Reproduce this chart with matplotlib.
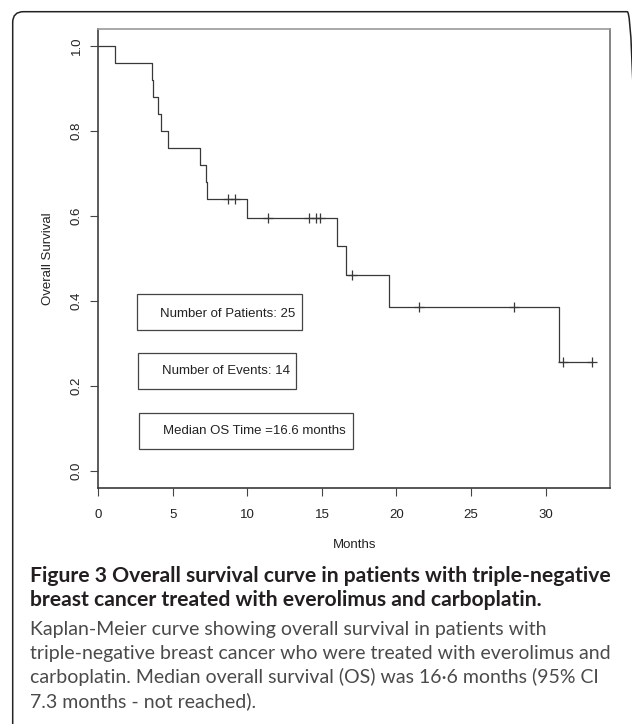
import numpy as np
import matplotlib
matplotlib.use("Agg")
import matplotlib.pyplot as plt
from matplotlib.patches import Rectangle, FancyBboxPatch

# survival data (months)
event_times = [1.1, 3.6, 3.7, 4.0, 4.2, 4.7, 6.8, 7.2, 7.3, 9.95, 16.0, 16.6, 19.5, 30.9]
censor_times = [8.7, 9.2, 11.4, 14.1, 14.6, 14.9, 17.0, 21.5, 27.9, 31.2, 33.1]

x_ticks = [0, 5, 10, 15, 20, 25, 30]
y_ticks = [0.0, 0.2, 0.4, 0.6, 0.8, 1.0]
y_ticklabels = ["0.0", "0.2", "0.4", "0.6", "0.8", "1.0"]

legend_texts = ["Number of Patients: 25", "Number of Events: 14", "Median OS Time =16.6 months"]

caption_bold = ["Figure 3 Overall survival curve in patients with triple-negative",
                "breast cancer treated with everolimus and carboplatin."]
caption_body = ["Kaplan-Meier curve showing overall survival in patients with",
                "triple-negative breast cancer who were treated with everolimus and",
                "carboplatin. Median overall survival (OS) was 16\u00b76 months (95% CI",
                "7.3 months - not reached)."]

W, H = 632, 724


def kaplan_meier(events, censored):
    allt = sorted([(t, 1) for t in events] + [(t, 0) for t in censored])
    n = len(allt)
    s = 1.0
    xs, ys = [0.0], [1.0]
    cx, cy = [], []
    for t, d in allt:
        if d == 1:
            s = s * (n - 1) / n
            xs.append(t)
            ys.append(s)
        else:
            cx.append(t)
            cy.append(s)
        n -= 1
    xs.append(allt[-1][0])
    ys.append(s)
    return xs, ys, cx, cy


xs, ys, cx, cy = kaplan_meier(event_times, censor_times)

plt.rcParams['font.family'] = ['Liberation Sans', 'DejaVu Sans']

fig = plt.figure(figsize=(W / 100, H / 100), dpi=100)
ax = fig.add_axes([98.3 / W, 1 - 488 / H, (610 - 98.3) / W, (488 - 29) / H])

ax.step(xs, ys, where='post', color='#383838', lw=0.9)
ax.plot(cx, cy, ls='none', marker='+', ms=7, mew=0.9, color='#383838')

ax.set_xlim(0, 34.32)
ax.set_ylim(-0.04, 1.04)
ax.set_xticks(x_ticks)
ax.set_yticks(y_ticks)
ax.set_yticklabels(y_ticklabels, rotation=90, va='center')
ax.tick_params(axis='both', length=5.8, width=0.8, color='#444444', labelsize=9.5, labelcolor='#222222')
ax.tick_params(axis='y', pad=5.6)
ax.tick_params(axis='x', pad=9.6)

for side, c in [('left', '#404040'), ('bottom', '#3a3a3a'), ('top', '#9a9a9a'), ('right', '#707070')]:
    ax.spines[side].set_color(c)
    ax.spines[side].set_linewidth(1.2)

ax.text(-0.0977, 0.5, "Overall Survival", transform=ax.transAxes, rotation=90,
        ha='center', va='center', fontsize=9.5, color='#222222')
ax.text(0.5, -0.124, "Months", transform=ax.transAxes, ha='center', va='center',
        fontsize=9.5, color='#222222')

# legend boxes (R style)
boxes = [(2.58, 0.332, 13.64, 0.417, 4.14, 0.370),
         (2.68, 0.194, 13.24, 0.277, 4.25, 0.236),
         (2.75, 0.052, 17.10, 0.137, 4.36, 0.094)]
for (x0, y0, x1, y1, tx, ty), txt in zip(boxes, legend_texts):
    ax.add_patch(Rectangle((x0, y0), x1 - x0, y1 - y0, fill=False, ec='#444444', lw=0.9))
    ax.text(tx, ty, txt, ha='left', va='center', fontsize=9.5, color='#222222')

# outer rounded frame, runs off the right and bottom edges
frame = FancyBboxPatch((12.7 / W, -0.05), (638 - 12.7) / W, 1.05 - 11.7 / H,
                       boxstyle="round,pad=0,rounding_size=0.017",
                       transform=fig.transFigure, fill=False, ec='#222222', lw=1.1,
                       mutation_aspect=W / H)
fig.add_artist(frame)

renderer = fig.canvas.get_renderer()


def fit_size(text, width_px, **kw):
    t = fig.text(0, 0, text, **kw)
    w = t.get_window_extent(renderer).width
    size = t.get_fontsize() * width_px / w
    t.remove()
    return size


bsize = fit_size(caption_bold[0], 576, family='Lato', weight='bold', fontsize=12)
nsize = fit_size(caption_body[1], 578, family='Lato', fontsize=12)

for i, line in enumerate(caption_bold):
    fig.text(30 / W, 1 - (582 + 24.5 * i) / H, line, family='Lato', weight='bold',
             fontsize=bsize, color='#231f20', va='baseline')
for i, line in enumerate(caption_body):
    fig.text(30 / W, 1 - (635 + 24 * i) / H, line, family='Lato',
             fontsize=nsize, color='#4a4a4a', va='baseline')

fig.savefig("out.png", dpi=100)
